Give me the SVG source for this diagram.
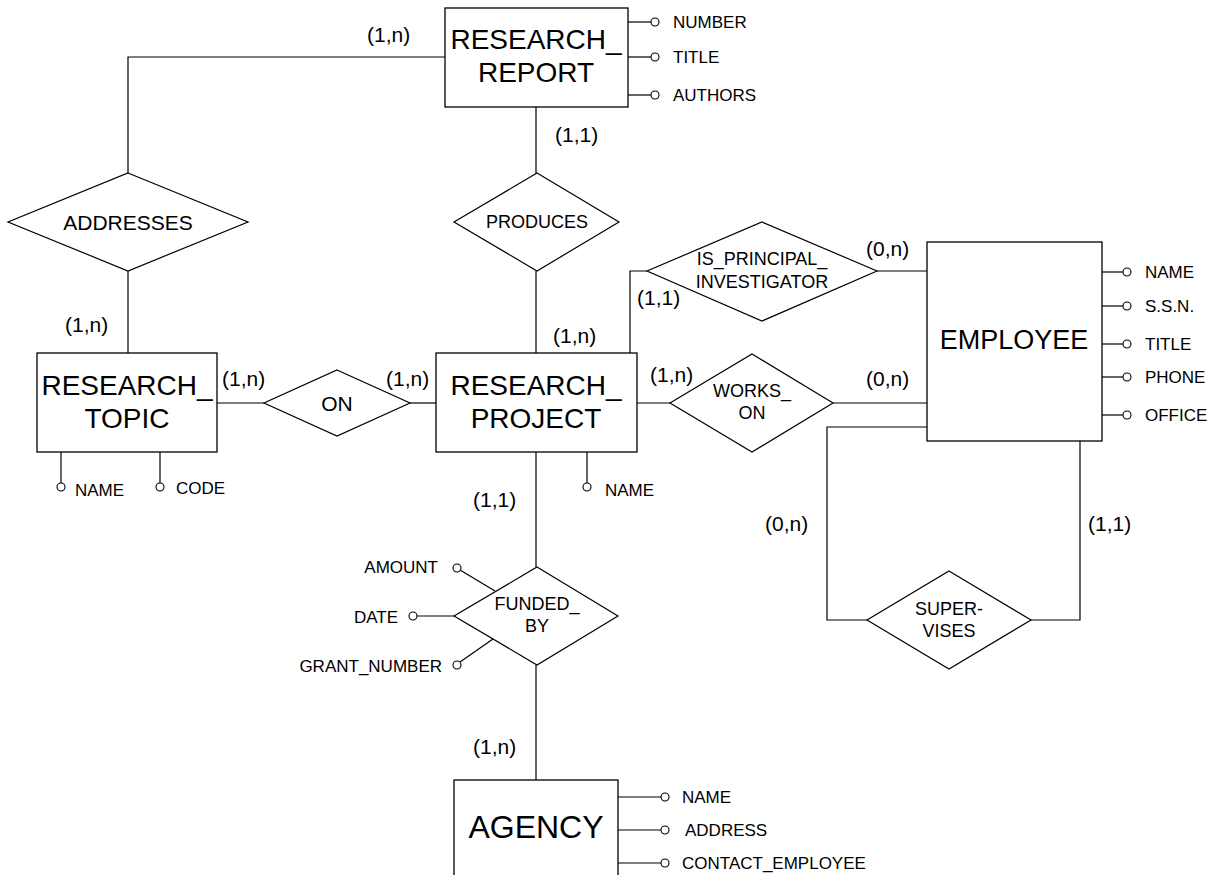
<svg xmlns="http://www.w3.org/2000/svg" width="1219" height="875" viewBox="0 0 1219 875">
  <style>
    .box { fill: #fff; stroke: #000; stroke-width: 1.3; }
    .rel { fill: #fff; stroke: #000; stroke-width: 1.2; }
    .ln { fill: none; stroke: #000; stroke-width: 1.2; }
    .att { fill: #fff; stroke: #000; stroke-width: 1.1; }
    text { font-family: "Liberation Sans", Arial, sans-serif; fill: #000; }
    .ent { font-size: 28px; text-anchor: middle; }
    .rtx { font-size: 18px; text-anchor: middle; }
    .rtxl { font-size: 21px; text-anchor: middle; }
    .card { font-size: 21px; }
    .atx { font-size: 17px; }
    .atxr { font-size: 17px; text-anchor: end; }
  </style>
  <rect width="1219" height="875" fill="#fff"/>

  <!-- relationship connectors and cardinalities -->
  <g id="connectors">
    <polyline class="ln" points="445,57 128,57 128,173"/>
    <line class="ln" x1="128" y1="271" x2="128" y2="353"/>
    <line class="ln" x1="536" y1="107" x2="536" y2="173"/>
    <line class="ln" x1="536" y1="271" x2="536" y2="353"/>
    <line class="ln" x1="217" y1="403" x2="264" y2="403"/>
    <line class="ln" x1="410" y1="403" x2="436" y2="403"/>
    <polyline class="ln" points="630,353 630,271 647,271"/>
    <line class="ln" x1="877" y1="271" x2="927" y2="271"/>
    <line class="ln" x1="637" y1="403" x2="670" y2="403"/>
    <line class="ln" x1="833" y1="403" x2="927" y2="403"/>
    <polyline class="ln" points="927,427 827,427 827,620 867,620"/>
    <polyline class="ln" points="1031,620 1080,620 1080,441"/>
    <line class="ln" x1="536" y1="452" x2="536" y2="567"/>
    <line class="ln" x1="536" y1="665" x2="536" y2="780"/>

    <text class="card" x="367" y="42">(1,n)</text>
    <text class="card" x="555" y="142">(1,1)</text>
    <text class="card" x="65" y="332">(1,n)</text>
    <text class="card" x="222" y="386">(1,n)</text>
    <text class="card" x="386" y="386">(1,n)</text>
    <text class="card" x="553" y="343">(1,n)</text>
    <text class="card" x="637" y="305">(1,1)</text>
    <text class="card" x="866" y="256">(0,n)</text>
    <text class="card" x="650" y="382">(1,n)</text>
    <text class="card" x="866" y="386">(0,n)</text>
    <text class="card" x="473" y="507">(1,1)</text>
    <text class="card" x="473" y="754">(1,n)</text>
    <text class="card" x="765" y="531">(0,n)</text>
    <text class="card" x="1088" y="531">(1,1)</text>
  </g>

  <!-- entities -->
  <g id="research-report">
    <rect class="box" x="445" y="8" width="183" height="99"/>
    <text class="ent" x="536" y="49">RESEARCH_</text>
    <text class="ent" x="536" y="82">REPORT</text>
    <line class="ln" x1="628" y1="22" x2="651" y2="22"/>
    <circle class="att" cx="655" cy="22" r="4"/>
    <text class="atx" x="673" y="28">NUMBER</text>
    <line class="ln" x1="628" y1="57" x2="651" y2="57"/>
    <circle class="att" cx="655" cy="57" r="4"/>
    <text class="atx" x="673" y="63">TITLE</text>
    <line class="ln" x1="628" y1="95" x2="651" y2="95"/>
    <circle class="att" cx="655" cy="95" r="4"/>
    <text class="atx" x="673" y="101">AUTHORS</text>
  </g>

  <g id="research-topic">
    <rect class="box" x="37" y="353" width="180" height="99"/>
    <text class="ent" x="127" y="395">RESEARCH_</text>
    <text class="ent" x="127" y="428">TOPIC</text>
    <line class="ln" x1="61" y1="452" x2="61" y2="483"/>
    <circle class="att" cx="61" cy="487" r="4"/>
    <text class="atx" x="75" y="496">NAME</text>
    <line class="ln" x1="160" y1="452" x2="160" y2="483"/>
    <circle class="att" cx="160" cy="487" r="4"/>
    <text class="atx" x="176" y="494">CODE</text>
  </g>

  <g id="research-project">
    <rect class="box" x="436" y="353" width="201" height="99"/>
    <text class="ent" x="536" y="395">RESEARCH_</text>
    <text class="ent" x="536" y="428">PROJECT</text>
    <line class="ln" x1="587" y1="452" x2="587" y2="483"/>
    <circle class="att" cx="587" cy="487" r="4"/>
    <text class="atx" x="605" y="496">NAME</text>
  </g>

  <g id="employee">
    <rect class="box" x="927" y="242" width="175" height="199"/>
    <text class="ent" x="1014" y="349" style="font-size:27px">EMPLOYEE</text>
    <line class="ln" x1="1102" y1="272" x2="1123" y2="272"/>
    <circle class="att" cx="1127" cy="272" r="4"/>
    <text class="atx" x="1145" y="278">NAME</text>
    <line class="ln" x1="1102" y1="306" x2="1123" y2="306"/>
    <circle class="att" cx="1127" cy="306" r="4"/>
    <text class="atx" x="1145" y="312">S.S.N.</text>
    <line class="ln" x1="1102" y1="344" x2="1123" y2="344"/>
    <circle class="att" cx="1127" cy="344" r="4"/>
    <text class="atx" x="1145" y="350">TITLE</text>
    <line class="ln" x1="1102" y1="377" x2="1123" y2="377"/>
    <circle class="att" cx="1127" cy="377" r="4"/>
    <text class="atx" x="1145" y="383">PHONE</text>
    <line class="ln" x1="1102" y1="415" x2="1123" y2="415"/>
    <circle class="att" cx="1127" cy="415" r="4"/>
    <text class="atx" x="1145" y="421">OFFICE</text>
  </g>

  <g id="agency">
    <rect class="box" x="454" y="780" width="164" height="110"/>
    <text class="ent" x="536" y="838" style="font-size:32px">AGENCY</text>
    <line class="ln" x1="618" y1="797" x2="661" y2="797"/>
    <circle class="att" cx="665" cy="797" r="4"/>
    <text class="atx" x="682" y="803">NAME</text>
    <line class="ln" x1="618" y1="830" x2="661" y2="830"/>
    <circle class="att" cx="665" cy="830" r="4"/>
    <text class="atx" x="685" y="836">ADDRESS</text>
    <line class="ln" x1="618" y1="863" x2="661" y2="863"/>
    <circle class="att" cx="665" cy="863" r="4"/>
    <text class="atx" x="682" y="869">CONTACT_EMPLOYEE</text>
  </g>

  <!-- relationships -->
  <g id="addresses">
    <polygon class="rel" points="128,173 248,222 128,271 8,222"/>
    <text class="rtxl" x="128" y="230">ADDRESSES</text>
  </g>

  <g id="produces">
    <polygon class="rel" points="537,173 619,222 537,271 454,222"/>
    <text class="rtx" x="537" y="228">PRODUCES</text>
  </g>

  <g id="on">
    <polygon class="rel" points="337,370 410,403 337,436 264,403"/>
    <text class="rtxl" x="337" y="411">ON</text>
  </g>

  <g id="is-principal-investigator">
    <polygon class="rel" points="762,222 877,271 762,321 647,271"/>
    <text class="rtx" x="762" y="265">IS_PRINCIPAL_</text>
    <text class="rtx" x="762" y="288">INVESTIGATOR</text>
  </g>

  <g id="works-on">
    <polygon class="rel" points="752,354 833,403 752,452 670,403"/>
    <text class="rtx" x="752" y="397">WORKS_</text>
    <text class="rtx" x="752" y="419">ON</text>
  </g>

  <g id="funded-by">
    <polygon class="rel" points="537,567 618,616 537,665 454,616"/>
    <text class="rtx" x="537" y="610">FUNDED_</text>
    <text class="rtx" x="537" y="632">BY</text>
    <line class="ln" x1="460" y1="570" x2="495" y2="591"/>
    <circle class="att" cx="457" cy="568" r="4"/>
    <text class="atxr" x="438" y="573">AMOUNT</text>
    <line class="ln" x1="417" y1="616" x2="454" y2="616"/>
    <circle class="att" cx="413" cy="616" r="4"/>
    <text class="atxr" x="398" y="623">DATE</text>
    <line class="ln" x1="460" y1="662" x2="493" y2="639"/>
    <circle class="att" cx="457" cy="665" r="4"/>
    <text class="atxr" x="442" y="672">GRANT_NUMBER</text>
  </g>

  <g id="supervises">
    <polygon class="rel" points="949,571 1031,620 949,669 867,620"/>
    <text class="rtx" x="949" y="615">SUPER-</text>
    <text class="rtx" x="949" y="637">VISES</text>
  </g>
</svg>
